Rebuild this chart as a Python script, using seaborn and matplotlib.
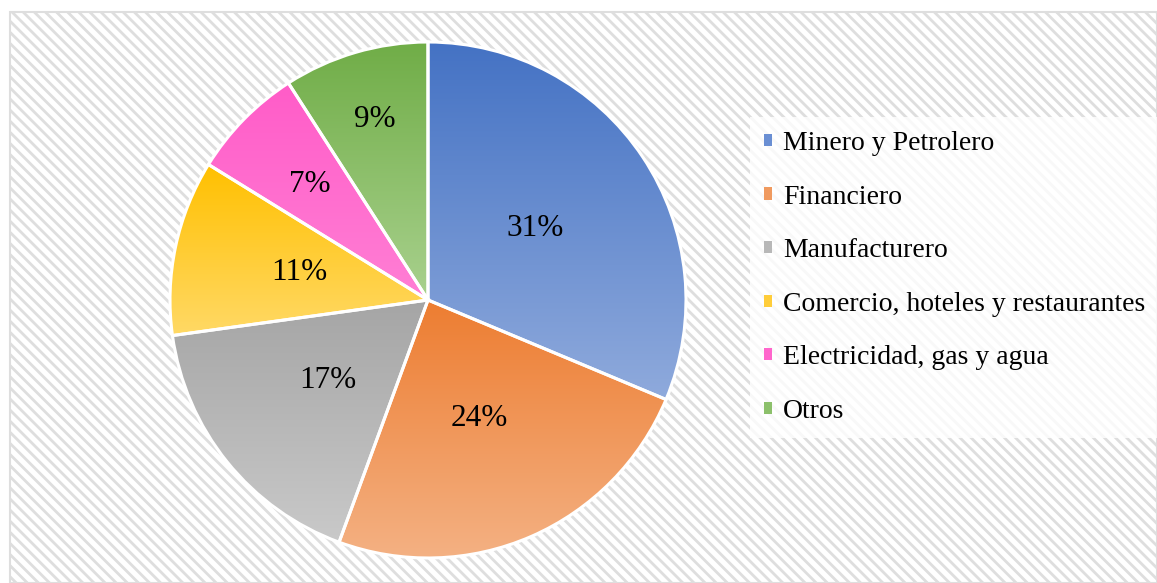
import numpy as np
import seaborn as sns
import matplotlib.pyplot as plt
from matplotlib.colors import to_rgb
from matplotlib.patches import Rectangle, Patch

sectors = ["Minero y Petrolero", "Financiero", "Manufacturero",
           "Comercio, hoteles y restaurantes", "Electricidad, gas y agua", "Otros"]
shares = [31.3, 24.3, 17.2, 11.0, 7.1, 9.1]
# top (dark) and bottom (light) colour of each slice gradient
top_colors = ["#4472C4", "#ED7D31", "#A5A5A5", "#FFC000", "#FF5CC8", "#70AD47"]
bottom_colors = ["#8FAADC", "#F4B183", "#C9C9C9", "#FFD966", "#FF7FD5", "#A9D18E"]
# radial position of each percentage label (small slices pushed outwards)
label_radius = [0.5, 0.5, 0.5, 0.51, 0.64, 0.73]

sns.set_style("white")
plt.rcParams["font.family"] = ["Liberation Serif", "DejaVu Serif"]
plt.rcParams["hatch.linewidth"] = 2.0

W, H = 1157, 583
fig = plt.figure(figsize=(W / 100, H / 100), dpi=100)

# hatched chart area with thin grey border
bg = Rectangle((10 / W, 0), 1 - 10 / W, (H - 12) / H, transform=fig.transFigure,
               facecolor="white", edgecolor="#DEDEDE", hatch="\\\\\\", lw=1.5, zorder=-10)
fig.patches.append(bg)

r_px = 258
half = 1.05 * r_px
ax = fig.add_axes([(428 - half) / W, (H - 300 - half) / H, 2 * half / W, 2 * half / H])
ax.set_facecolor("none")

palette = sns.color_palette(top_colors)
wedges, texts, autotexts = ax.pie(
    shares, colors=palette, startangle=90, counterclock=False,
    autopct="%.0f%%", pctdistance=0.5, radius=1.0,
    wedgeprops=dict(edgecolor="white", linewidth=2.2),
    textprops=dict(fontsize=22.5, color="black"))

# vertical gradient fill, clipped to each wedge
for w, c_top, c_bot in zip(wedges, top_colors, bottom_colors):
    ext = w.get_path().get_extents()
    t = np.linspace(0, 1, 256)[:, None]
    grad = (1 - t) * np.array(to_rgb(c_top)) + t * np.array(to_rgb(c_bot))
    im = ax.imshow(grad[:, None, :], extent=(ext.x0, ext.x1, ext.y0, ext.y1),
                   origin="upper", aspect="auto", zorder=1, interpolation="bilinear")
    im.set_clip_path(w)
    w.set_facecolor("none")
    w.set_zorder(2)

for w, txt, rr in zip(wedges, autotexts, label_radius):
    ang = np.deg2rad((w.theta1 + w.theta2) / 2)
    txt.set_position((rr * np.cos(ang), rr * np.sin(ang)))
    txt.set_zorder(3)

ax.set_xlim(-1.05, 1.05)
ax.set_ylim(-1.05, 1.05)
ax.set_aspect("equal")
ax.axis("off")

handles = [Patch(facecolor=c, edgecolor="none") for c in
           ["#6A8FD3", "#F09A5F", "#B8B8B8", "#FFCD3A", "#FF66CC", "#8CC06B"]]
leg = fig.legend(handles, sectors, loc="upper left",
                 bbox_to_anchor=(750 / W, (H - 117) / H), bbox_transform=fig.transFigure,
                 fontsize=20, labelcolor="black", frameon=True, fancybox=False,
                 framealpha=0.8, facecolor="white", edgecolor="none",
                 handlelength=0.3, handleheight=0.3, handletextpad=0.4,
                 labelspacing=1.03, borderpad=0.5, borderaxespad=0)

fig.savefig("out.png", dpi=100)
